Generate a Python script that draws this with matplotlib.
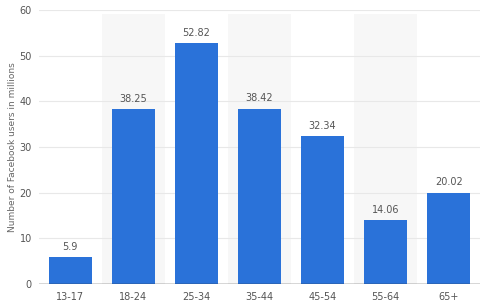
import matplotlib.pyplot as plt

# age groups and Facebook users (millions)
age_groups = ["13-17", "18-24", "25-34", "35-44", "45-54", "55-64", "65+"]
users = [5.9, 38.25, 52.82, 38.42, 32.34, 14.06, 20.02]
value_labels = ["5.9", "38.25", "52.82", "38.42", "32.34", "14.06", "20.02"]
y_ticks = [0, 10, 20, 30, 40, 50, 60]

fig = plt.figure(figsize=(4.91, 3.03), dpi=100)
ax = fig.add_axes([0.079, 0.063, 0.899, 0.904])

x = range(len(age_groups))

# alternating light bands behind every other category
for i in x:
    if i % 2 == 1:
        ax.axvspan(i - 0.5, i + 0.5, ymin=0, ymax=0.985, color="#f7f7f7", zorder=0, lw=0)

for t in y_ticks[1:]:
    ax.axhline(t, color="#e8e8e8", lw=0.8, zorder=1)

bars = ax.bar(x, users, width=0.68, color="#2a72d9", zorder=2)

for xi, v, lab in zip(x, users, value_labels):
    ax.text(xi, v + 1.1, lab, ha="center", va="bottom", fontsize=7, color="#555555")

ax.axhline(0, color="#333333", lw=1.0, zorder=3)

ax.set_xlim(-0.5, len(age_groups) - 0.5)
ax.set_ylim(0, 60)
ax.set_xticks(list(x))
ax.set_xticklabels(age_groups, fontsize=7, color="#555555")
ax.set_yticks(y_ticks)
ax.set_yticklabels([str(t) for t in y_ticks], fontsize=7, color="#555555")
ax.tick_params(length=0, pad=6)
ax.tick_params(axis="y", pad=5)
ax.set_ylabel("Number of Facebook users in millions", fontsize=6.5, color="#666666")
ax.yaxis.set_label_coords(-0.05, 0.5)

for s in ax.spines.values():
    s.set_visible(False)

fig.savefig("out.png", dpi=100)
